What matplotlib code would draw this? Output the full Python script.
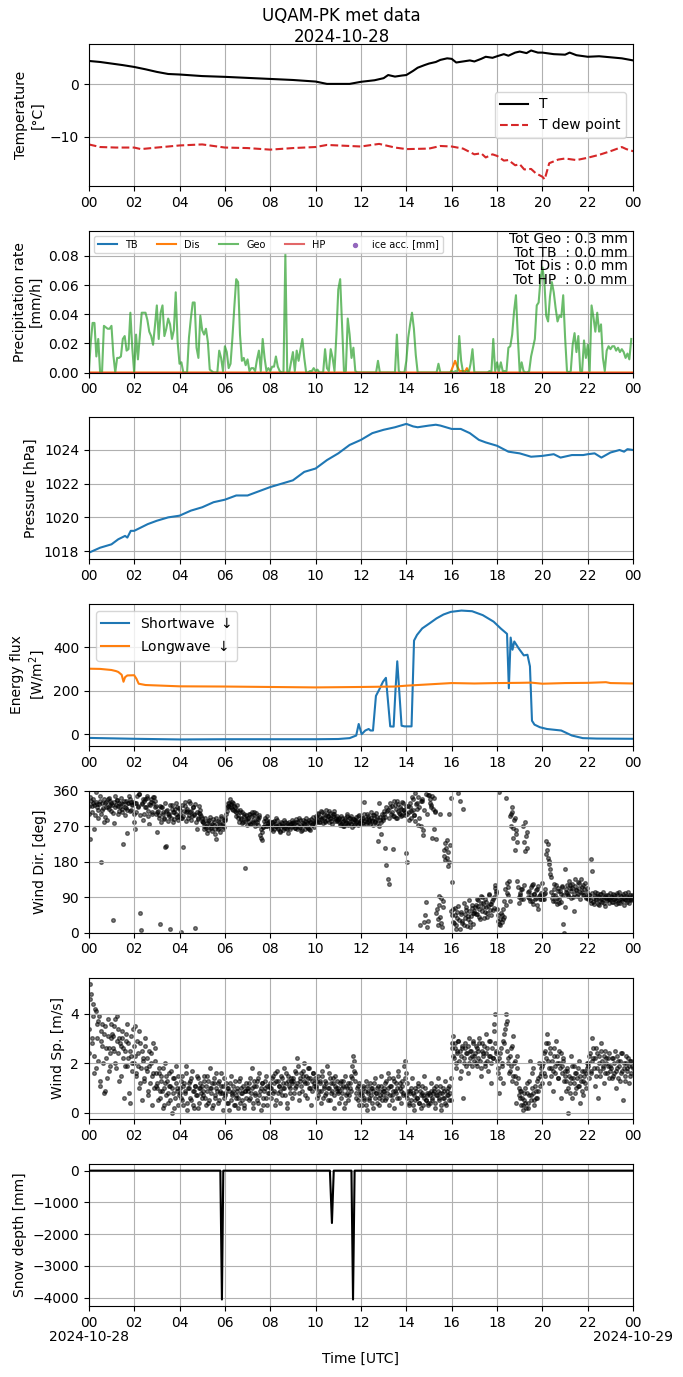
import numpy as np
import matplotlib
matplotlib.use("Agg")
import matplotlib.pyplot as plt
import matplotlib.dates as mdates

# DAY OF THE DATA
day = np.datetime64("2024-10-28T00:00")
day_labels = ["2024-10-28", "2024-10-29"]

# TEMPERATURE AND DEW POINT [°C]
temp_h = [0, 0.5, 1, 1.5, 2, 2.5, 3, 3.5, 4, 5, 6, 7, 8, 9, 10, 10.5, 11, 11.5, 12,
          12.6, 13.0, 13.2, 13.5, 13.8, 14, 14.3, 14.5, 14.8, 15, 15.3, 15.5, 15.8,
          16, 16.2, 16.5, 16.8, 17.0, 17.3, 17.5, 17.8, 18, 18.3, 18.5, 18.8, 19,
          19.3, 19.5, 19.8, 20, 20.5, 21, 21.2, 21.5, 22, 22.5, 23, 23.5, 24]
temp = [4.5, 4.3, 4.0, 3.7, 3.35, 2.9, 2.4, 2.0, 1.9, 1.6, 1.45, 1.25, 1.05, 0.85, 0.55,
        0.1, 0.1, 0.1, 0.5, 0.8, 1.2, 1.8, 1.5, 1.7, 1.8, 2.6, 3.2, 3.7, 4.0, 4.3, 4.7,
        5.0, 4.9, 4.2, 4.4, 4.6, 4.4, 4.9, 5.3, 5.1, 5.4, 5.8, 5.5, 6.1, 6.3, 6.0, 6.5,
        6.1, 6.1, 5.8, 5.7, 6.1, 5.6, 5.3, 5.4, 5.2, 5.0, 4.6]
dew_h = [0, 0.5, 1.2, 2, 2.3, 3, 4, 5, 6, 7, 8, 9, 10, 10.5, 12, 12.8, 13.5, 14, 15,
         15.5, 16, 16.5, 17, 17.3, 17.5, 17.8, 18, 18.3, 18.5, 18.8, 19, 19.2, 19.5,
         19.7, 20, 20.1, 20.3, 20.7, 21, 21.5, 22, 22.5, 23, 23.5, 23.7, 24]
dew = [-11.5, -12.0, -12.1, -12.1, -12.4, -12.1, -11.7, -11.5, -12.1, -12.2, -12.5,
       -12.2, -12.0, -11.6, -11.9, -11.4, -12.1, -12.4, -12.3, -11.8, -11.9, -12.3,
       -13.4, -13.2, -14.0, -13.4, -13.7, -14.6, -14.5, -15.5, -15.3, -16.3, -16.2,
       -17.0, -17.7, -18.2, -15.1, -14.4, -14.2, -14.5, -14.05, -13.5, -12.8, -12.0,
       -12.4, -12.8]

# PRECIPITATION RATE [mm/h], GEO EVERY 5 MINUTES (ONE ROW PER HOUR)
geo_by_hour = [
    [0, .020, .034, .034, .011, .023, 0, 0, .032, .031, .030, .030],
    [.032, .012, 0, .010, .010, .011, .023, .025, .015, .016, .041, .017],
    [0, .026, .009, .025, .041, .041, .041, .036, .028, .025, .019, .032],
    [.046, .023, .041, .046, .025, .030, .037, .033, .023, .029, .055, .021],
    [.006, .007, 0, 0, 0, .024, .037, .048, .048, .017, .010, .039],
    [.029, .026, .030, .021, .002, .001, 0, 0, 0, .015, .010, .001],
    [.018, .014, .003, .006, .024, .045, .064, .062, .026, .008, .010, .005],
    [.009, .001, .003, .003, .001, .009, .015, .001, .023, .010, .001, .003],
    [.001, .004, .004, .011, .004, .001, 0, 0, .081, 0, 0, .007],
    [.014, .001, .015, .008, .016, .023, .010, 0, 0, .001, .001, .003],
    [.001, .002, 0, 0, 0, .016, .003, .001, .016, .010, .001, .026],
    [.057, .064, .033, .001, .001, .037, .026, .010, .017, .001, 0, 0],
    [0, 0, 0, 0, 0, 0, 0, 0, 0, .008, 0, 0],
    [0, 0, 0, 0, 0, 0, 0, .026, .001, 0, 0, 0],
    [.008, .024, .033, .041, .030, .012, 0, 0, 0, 0, 0, 0],
    [0, 0, 0, 0, 0, .006, 0, 0, 0, 0, 0, 0],
    [.001, 0, .001, 0, .025, .008, 0, 0, .001, 0, .006, .016],
    [0, 0, 0, 0, 0, 0, 0, 0, .001, 0, .023, .001],
    [.007, .001, .007, .001, .001, .001, .017, .018, .026, .042, .053, .024],
    [0, .007, .001, 0, 0, .001, .011, .017, .023, .046, .048, .064],
    [.072, .063, .039, .035, .052, .062, .055, .044, .035, .039, .038, .053],
    [.024, .001, 0, .001, .019, .027, .014, .025, .001, .001, .022, .010],
    [.019, .001, .046, .038, .028, .041, .028, .033, .010, .001, .015, .018],
    [.016, .018, .018, .015, .017, .014, .016, .014, .010, .013, .009, .023],
]
dis_h = [0, 15.95, 16.05, 16.15, 16.25, 16.35, 16.5, 16.6, 16.67, 16.75, 24]
dis = [0, 0, .004, .008, .004, .001, .001, .001, .003, 0, 0]
tb_h = [0, 24]
tb = [0, 0]
hp_h = [0, 24]
hp = [0, 0]
tot_names = ["Geo", "TB ", "Dis", "HP "]
tot_vals = [0.3, 0.0, 0.0, 0.0]

# PRESSURE [hPa]
pres_h = [0, 0.5, 1, 1.3, 1.6, 1.7, 1.85, 2, 2.3, 2.6, 3, 3.5, 4, 4.5, 5, 5.5, 6, 6.5,
          7, 7.5, 8, 8.5, 9, 9.5, 10, 10.5, 11, 11.5, 12, 12.5, 13, 13.5, 14, 14.3,
          14.5, 15, 15.3, 15.5, 16, 16.4, 16.8, 17.2, 17.5, 18, 18.5, 19, 19.5, 20,
          20.5, 20.8, 21.3, 21.8, 22, 22.3, 22.6, 23, 23.4, 23.6, 23.75, 24]
pres = [1017.9, 1018.2, 1018.4, 1018.7, 1018.9, 1018.8, 1019.2, 1019.2, 1019.4, 1019.6,
        1019.8, 1020.0, 1020.1, 1020.4, 1020.6, 1020.9, 1021.05, 1021.3, 1021.3,
        1021.55, 1021.8, 1022.0, 1022.2, 1022.7, 1022.9, 1023.4, 1023.8, 1024.3,
        1024.6, 1025.0, 1025.2, 1025.35, 1025.55, 1025.4, 1025.35, 1025.45, 1025.5,
        1025.45, 1025.25, 1025.25, 1025.0, 1024.6, 1024.45, 1024.25, 1023.9, 1023.8,
        1023.6, 1023.65, 1023.75, 1023.55, 1023.7, 1023.7, 1023.75, 1023.8, 1023.55,
        1023.85, 1024.0, 1023.9, 1024.05, 1024.0]

# RADIATION [W/m2]
sw_h = [0, 2, 4, 6, 8, 10, 11, 11.5, 11.79, 11.9, 12.03, 12.19, 12.34, 12.42, 12.53,
        12.66, 12.81, 12.97, 13.1, 13.29, 13.44, 13.52, 13.6, 13.79, 13.92, 14.23,
        14.34, 14.47, 14.7, 15.02, 15.33, 15.64, 15.96, 16.43, 16.9, 17.37, 17.85,
        18.16, 18.44, 18.52, 18.6, 18.68, 18.76, 18.95, 19.18, 19.34, 19.45, 19.54,
        19.65, 19.89, 20.2, 20.83, 21.3, 21.78, 22.4, 24]
sw = [-17, -21, -24, -23, -23, -23, -22, -18, -6, 47, 0, 17, 24, 17, 17, 176, 206, 241,
      259, 36, 35, 198, 335, 39, 36, 36, 430, 456, 486, 509, 532, 550, 562, 568, 565,
      547, 517, 486, 461, 211, 444, 388, 426, 395, 362, 365, 312, 62, 44, 32, 24, 17,
      -6, -18, -20, -21]
lw_h = [0, 0.5, 1, 1.2, 1.3, 1.45, 1.53, 1.6, 1.7, 2.0, 2.1, 2.2, 2.5, 4, 6, 8, 10, 12,
        13.5, 14, 15, 16, 17, 18, 19, 19.5, 20, 21, 22, 22.8, 23, 24]
lw = [301, 300, 295, 290, 286, 273, 241, 262, 270, 271, 255, 232, 226, 220, 219, 217,
      215, 217, 219, 223, 229, 235, 233, 235, 236, 237, 232, 235, 236, 239, 235, 233]

# WIND DIRECTION [deg], EVERY 3 MINUTES (ONE ROW PER HOUR)
wdir_by_hour = [
    [300, 237, 335, 322, 330, 262, 357, 318, 291, 326, 333, 180, 312, 281, 328, 320, 287, 338, 315, 325],
    [330, 31, 279, 318, 325, 336, 322, 310, 329, 315, 226, 333, 320, 317, 253, 328, 340, 312, 324, 331],
    [280, 263, 330, 318, 351, 49, 6, 327, 287, 335, 320, 342, 310, 276, 325, 331, 300, 345, 318, 322],
    [256, 310, 298, 23, 318, 305, 290, 218, 221, 312, 300, 296, 9, 325, 305, 288, 314, 302, 320, 297],
    [300, 1, 292, 218, 310, 322, 305, 315, 298, 330, 308, 295, 318, 300, 12, 262, 289, 303, 311, 296],
    [290, 282, 270, 265, 278, 260, 285, 272, 268, 276, 280, 262, 237, 271, 283, 266, 274, 290, 279, 269],
    [285, 300, 320, 328, 318, 326, 315, 330, 322, 310, 305, 325, 298, 312, 290, 305, 280, 296, 163, 288],
    [290, 282, 300, 276, 295, 286, 305, 280, 291, 272, 298, 248, 240, 234, 268, 276, 285, 270, 278, 282],
    [272, 268, 280, 262, 275, 270, 285, 265, 273, 258, 278, 270, 266, 281, 274, 262, 270, 276, 268, 279],
    [270, 278, 265, 282, 274, 268, 286, 272, 260, 279, 275, 283, 269, 277, 262, 280, 288, 273, 278, 284],
    [285, 290, 300, 282, 294, 288, 305, 292, 280, 298, 286, 296, 310, 290, 284, 295, 300, 288, 292, 283],
    [288, 280, 276, 292, 284, 270, 286, 282, 295, 278, 290, 275, 283, 288, 272, 286, 280, 296, 278, 284],
    [285, 278, 292, 332, 288, 280, 295, 286, 276, 290, 284, 298, 282, 288, 294, 233, 328, 286, 250, 292],
    [300, 216, 171, 310, 136, 123, 318, 305, 211, 296, 325, 290, 335, 308, 300, 315, 298, 330, 312, 305],
    [203, 178, 305, 320, 290, 345, 312, 298, 355, 330, 272, 318, 18, 335, 340, 260, 26, 77, 14, 350],
    [350, 330, 320, 240, 342, 310, 237, 60, 35, 94, 300, 25, 80, 195, 228, 215, 190, 170, 300, 341],
    [128, 60, 25, 45, 10, 38, 355, 334, 52, 30, 313, 20, 48, 65, 35, 55, 15, 42, 70, 50],
    [55, 70, 48, 82, 60, 35, 75, 90, 65, 52, 78, 40, 68, 95, 58, 72, 85, 62, 120, 105],
    [60, 30, 357, 20, 45, 35, 80, 110, 341, 125, 95, 295, 270, 305, 240, 285, 210, 260, 130, 90],
    [100, 85, 110, 270, 230, 206, 255, 90, 105, 80, 95, 120, 72, 98, 88, 110, 60, 92, 85, 100],
    [90, 85, 100, 232, 210, 190, 182, 161, 140, 95, 110, 80, 120, 88, 105, 75, 98, 115, 23, 0],
    [161, 110, 100, 95, 120, 105, 112, 90, 56, 118, 108, 98, 125, 102, 135, 115, 95, 110, 88, 104],
    [88, 95, 82, 187, 156, 78, 92, 85, 100, 72, 90, 80, 98, 86, 75, 94, 88, 82, 96, 84],
    [85, 90, 78, 95, 88, 82, 100, 75, 86, 92, 80, 98, 88, 84, 94, 78, 90, 86, 82, 96],
]
# wind direction sampled in between (1.5 minutes later)
wdir_mid_by_hour = [
    [322, 345, 305, 338, 325, 298, 332, 327, 312, 348, 302, 328, 316, 340, 294, 331, 319, 342, 334, 308],
    [325, 304, 331, 346, 336, 300, 328, 320, 343, 305, 326, 298, 335, 312, 329, 347, 308, 332, 327, 300],
    [328, 305, 346, 322, 352, 298, 330, 340, 302, 338, 320, 348, 295, 327, 340, 306, 329, 345, 334, 300],
    [305, 292, 322, 282, 318, 302, 288, 330, 308, 284, 300, 325, 290, 314, 280, 306, 328, 294, 286, 316],
    [312, 290, 325, 296, 332, 284, 310, 292, 335, 305, 286, 318, 298, 326, 280, 306, 290, 322, 302, 284],
    [280, 262, 290, 270, 252, 284, 294, 266, 258, 288, 274, 250, 292, 264, 282, 256, 295, 273, 262, 286],
    [290, 310, 322, 330, 338, 318, 332, 312, 318, 296, 312, 290, 282, 306, 288, 278, 302, 284, 298, 274],
    [292, 302, 276, 306, 280, 298, 270, 304, 282, 288, 294, 262, 255, 268, 284, 292, 270, 296, 283, 274],
    [264, 280, 258, 284, 270, 290, 262, 276, 255, 282, 270, 260, 286, 266, 278, 254, 282, 262, 275, 286],
    [280, 266, 288, 262, 282, 292, 268, 258, 286, 274, 264, 290, 280, 266, 286, 260, 275, 293, 268, 282],
    [296, 282, 304, 280, 308, 290, 278, 302, 284, 312, 296, 280, 304, 291, 276, 300, 310, 284, 297, 286],
    [290, 274, 296, 282, 270, 292, 278, 300, 272, 290, 282, 296, 268, 288, 276, 294, 283, 272, 298, 278],
    [292, 278, 300, 284, 276, 302, 290, 280, 306, 286, 272, 298, 284, 304, 278, 270, 294, 282, 300, 286],
    [308, 294, 320, 312, 292, 328, 300, 322, 296, 334, 314, 292, 326, 304, 318, 296, 332, 312, 298, 322],
    [300, 322, 286, 330, 308, 340, 298, 284, 326, 315, 345, 292, 270, 335, 248, 312, 45, 352, 300, 30],
    [338, 325, 348, 315, 262, 305, 50, 20, 70, 40, 88, 15, 65, 210, 185, 235, 205, 178, 222, 55],
    [44, 26, 62, 18, 52, 68, 32, 8, 48, 24, 75, 36, 58, 16, 42, 82, 28, 62, 22, 50],
    [66, 46, 84, 68, 40, 94, 54, 76, 36, 86, 64, 50, 98, 72, 44, 80, 58, 90, 112, 100],
    [45, 22, 35, 50, 28, 60, 40, 70, 100, 115, 130, 80, 300, 320, 265, 290, 250, 230, 115, 75],
    [95, 110, 84, 120, 280, 245, 215, 104, 88, 116, 80, 124, 98, 86, 108, 70, 118, 96, 84, 126],
    [84, 98, 110, 200, 225, 175, 150, 104, 88, 80, 124, 96, 72, 112, 86, 106, 78, 118, 95, 66],
    [102, 120, 94, 130, 112, 88, 124, 98, 136, 108, 92, 128, 114, 84, 104, 120, 96, 126, 90, 112],
    [84, 96, 76, 100, 88, 72, 104, 82, 92, 70, 98, 86, 78, 102, 90, 68, 96, 84, 76, 100],
    [90, 78, 98, 84, 72, 96, 82, 104, 76, 92, 86, 70, 100, 82, 90, 102, 76, 96, 84, 92],
]

# WIND SPEED [m/s], EVERY 3 MINUTES (ONE ROW PER HOUR)
wsp_by_hour = [
    [2.4, 5.2, 4.8, 3.0, 4.4, 1.6, 4.1, 3.6, 2.1, 3.9, 1.1, 3.3, 2.7, 0.8, 3.5, 2.2, 1.4, 3.1, 2.6, 1.9],
    [3.6, 3.1, 2.5, 3.8, 1.8, 2.9, 3.4, 1.3, 2.7, 3.0, 2.2, 0.6, 2.5, 3.2, 1.9, 2.8, 0.4, 2.3, 1.7, 3.4],
    [2.0, 3.5, 1.5, 2.4, 1.0, 2.8, 1.8, 0.5, 2.2, 1.3, 3.0, 1.7, 0.9, 2.5, 1.2, 2.0, 0.3, 1.6, 2.6, 1.1],
    [1.2, 0.5, 1.8, 0.9, 1.5, 0.2, 1.0, 2.0, 0.7, 1.3, 0.4, 1.6, 1.1, 0.0, 0.8, 1.4, 0.6, 1.9, 1.0, 0.3],
    [1.0, 0.6, 1.5, 0.3, 1.2, 0.8, 1.9, 0.1, 1.0, 1.3, 0.5, 1.7, 0.9, 0.2, 1.1, 0.7, 1.4, 0.4, 1.0, 0.8],
    [1.1, 0.7, 1.5, 0.3, 0.9, 1.3, 0.5, 1.8, 1.0, 0.2, 1.2, 0.6, 1.6, 0.9, 0.4, 1.3, 0.8, 1.1, 0.1, 1.4],
    [0.8, 1.2, 0.4, 1.0, 0.1, 1.5, 0.7, 0.9, 0.3, 1.3, 0.6, 1.0, 0.2, 1.4, 0.8, 0.5, 1.1, 0.3, 0.9, 1.2],
    [1.0, 0.5, 1.4, 0.8, 1.8, 0.2, 1.1, 0.7, 1.3, 0.4, 1.6, 0.9, 0.1, 1.2, 0.6, 1.0, 1.5, 0.3, 0.8, 1.1],
    [1.2, 0.6, 1.5, 0.9, 0.3, 1.3, 1.7, 0.8, 1.1, 0.4, 1.4, 1.0, 1.8, 0.7, 1.2, 0.2, 1.5, 1.0, 1.3, 0.6],
    [1.4, 0.8, 1.7, 1.1, 2.2, 0.5, 1.3, 1.6, 0.9, 1.5, 2.0, 1.2, 0.6, 1.4, 1.8, 1.0, 0.3, 1.3, 1.6, 1.1],
    [1.1, 0.6, 1.5, 0.9, 1.3, 0.4, 1.7, 1.0, 0.7, 1.2, 1.9, 0.5, 1.0, 1.4, 0.8, 1.2, 0.2, 1.5, 1.0, 0.9],
    [1.0, 0.4, 1.3, 0.8, 1.1, 0.2, 1.5, 0.7, 1.0, 0.5, 1.2, 0.9, 1.4, 2.3, 2.1, 1.6, 0.6, 1.1, 0.3, 0.9],
    [0.8, 0.3, 1.1, 0.6, 1.3, 0.1, 0.9, 0.5, 1.2, 0.7, 1.0, 0.2, 1.4, 0.8, 0.4, 1.1, 0.6, 0.9, 1.5, 0.7],
    [1.0, 0.5, 1.3, 0.8, 1.6, 0.3, 1.1, 0.7, 1.4, 0.2, 0.9, 1.2, 0.6, 1.7, 1.0, 0.4, 1.3, 0.8, 1.9, 2.1],
    [0.7, 1.2, 0.3, 0.9, 0.5, 1.4, 0.8, 0.1, 1.0, 0.6, 1.2, 0.4, 0.9, 0.2, 1.1, 0.7, 1.5, 0.5, 0.8, 0.3],
    [0.8, 0.4, 1.2, 0.6, 0.9, 0.2, 1.1, 0.7, 1.4, 0.5, 0.8, 0.1, 1.0, 0.6, 1.3, 0.3, 0.9, 0.7, 1.1, 0.5],
    [2.6, 3.1, 2.2, 2.8, 1.8, 2.5, 2.9, 1.4, 2.3, 2.7, 0.6, 2.0, 2.6, 2.4, 1.6, 3.0, 2.2, 2.5, 1.9, 2.8],
    [2.3, 2.7, 1.9, 2.5, 3.0, 2.1, 1.5, 2.8, 2.4, 2.0, 3.2, 2.6, 1.7, 2.3, 2.9, 1.2, 2.2, 3.6, 4.0, 2.5],
    [2.1, 1.6, 0.8, 2.4, 1.9, 1.2, 2.8, 3.4, 4.0, 3.7, 2.2, 1.7, 2.6, 1.3, 3.1, 2.0, 1.5, 0.4, 2.3, 1.0],
    [0.9, 0.3, 0.6, 0.1, 0.8, 0.4, 1.2, 0.2, 0.7, 2.1, 0.5, 1.0, 1.8, 0.3, 0.9, 0.6, 1.4, 2.0, 1.1, 1.6],
    [1.9, 2.4, 1.5, 2.8, 3.2, 2.1, 1.2, 2.6, 1.8, 0.9, 2.3, 1.6, 2.9, 2.0, 1.4, 2.5, 0.6, 1.9, 2.2, 1.3],
    [1.5, 0.9, 1.8, 0.0, 1.2, 2.3, 0.6, 1.4, 1.9, 0.8, 1.6, 1.1, 2.1, 0.4, 1.3, 1.7, 0.7, 1.5, 1.0, 2.0],
    [2.0, 1.4, 2.4, 1.7, 3.0, 2.2, 1.1, 2.6, 1.8, 0.6, 2.3, 1.5, 2.8, 1.9, 1.2, 2.5, 2.0, 1.6, 2.2, 1.4],
    [1.9, 1.4, 2.2, 1.6, 2.5, 1.0, 1.8, 2.1, 1.3, 2.4, 1.7, 0.5, 2.0, 1.5, 2.3, 1.8, 1.2, 2.1, 1.6, 1.9],
]
# wind speed sampled in between (1.5 minutes later)
wsp_mid_by_hour = [
    [3.4, 4.6, 2.8, 3.9, 2.3, 4.2, 1.8, 3.0, 3.7, 1.3, 2.9, 3.6, 2.0, 3.2, 0.9, 2.6, 3.8, 1.7, 2.4, 3.0],
    [3.2, 2.6, 3.5, 2.0, 3.9, 2.4, 3.0, 2.8, 1.5, 3.3, 2.6, 1.9, 2.9, 3.6, 2.2, 0.8, 2.5, 3.1, 2.0, 2.7],
    [2.3, 1.6, 2.9, 1.9, 3.3, 1.2, 2.5, 2.1, 1.4, 2.7, 1.8, 2.2, 0.7, 1.9, 2.4, 1.5, 2.8, 1.0, 2.1, 1.6],
    [1.0, 1.6, 0.6, 1.3, 0.9, 1.8, 0.3, 1.2, 1.5, 0.8, 1.1, 0.5, 1.7, 1.0, 1.4, 0.2, 1.2, 0.9, 1.5, 0.7],
    [0.8, 1.3, 0.5, 1.1, 0.9, 1.6, 0.4, 1.0, 1.2, 0.6, 1.4, 0.3, 0.9, 1.1, 0.7, 1.5, 0.2, 1.0, 1.2, 0.6],
    [0.9, 1.3, 0.6, 1.1, 1.5, 0.4, 1.0, 0.8, 1.2, 0.3, 1.4, 0.7, 1.0, 1.2, 0.5, 0.9, 1.6, 0.8, 1.1, 0.6],
    [0.7, 1.0, 0.4, 0.9, 1.2, 0.5, 0.8, 1.1, 0.3, 0.7, 0.9, 0.6, 1.3, 0.4, 1.0, 0.8, 0.2, 0.9, 0.6, 1.0],
    [0.9, 1.2, 0.6, 1.0, 0.4, 1.3, 0.8, 1.1, 0.5, 1.4, 0.7, 1.0, 1.2, 0.3, 0.9, 1.3, 0.6, 1.1, 0.8, 1.0],
    [1.0, 1.4, 0.8, 1.2, 1.6, 0.5, 1.3, 1.1, 0.9, 1.5, 0.7, 1.2, 1.0, 1.6, 0.4, 1.3, 1.1, 0.8, 1.4, 1.2],
    [1.3, 1.0, 1.6, 1.2, 1.9, 0.8, 1.4, 1.1, 1.7, 1.3, 0.7, 1.5, 1.2, 1.8, 1.0, 1.4, 0.9, 1.6, 1.2, 1.4],
    [1.0, 1.3, 0.7, 1.2, 0.9, 1.5, 0.6, 1.1, 1.3, 0.8, 1.0, 1.6, 0.5, 1.2, 0.9, 1.4, 0.7, 1.1, 1.3, 0.8],
    [0.9, 1.2, 0.6, 1.0, 1.3, 0.4, 1.1, 0.8, 1.2, 0.7, 1.0, 1.5, 1.9, 1.7, 1.3, 0.8, 1.0, 0.5, 1.2, 0.7],
    [0.7, 1.0, 0.5, 0.9, 0.3, 1.1, 0.8, 0.6, 1.0, 0.4, 0.9, 1.2, 0.6, 0.8, 1.0, 0.3, 0.7, 1.1, 0.5, 0.9],
    [0.9, 1.2, 0.6, 1.0, 1.4, 0.7, 1.1, 0.5, 0.9, 1.3, 0.8, 1.0, 1.5, 0.6, 1.2, 0.9, 1.1, 0.7, 1.4, 1.6],
    [0.6, 0.9, 0.4, 0.8, 1.0, 0.3, 0.7, 0.5, 0.9, 0.6, 1.1, 0.4, 0.7, 0.8, 0.3, 0.6, 1.0, 0.5, 0.7, 0.4],
    [0.7, 0.9, 0.5, 0.8, 1.0, 0.4, 0.7, 0.9, 0.6, 1.1, 0.3, 0.8, 0.6, 0.9, 0.4, 0.7, 1.0, 0.5, 0.8, 1.4],
    [2.8, 2.3, 2.6, 2.0, 2.4, 2.9, 2.1, 2.5, 1.7, 2.6, 2.2, 2.8, 1.9, 2.4, 2.7, 2.0, 2.5, 2.3, 2.9, 2.1],
    [2.4, 2.0, 2.6, 2.2, 2.8, 1.8, 2.5, 2.3, 2.7, 1.9, 2.4, 2.1, 2.9, 2.3, 2.0, 2.6, 2.2, 3.3, 2.8, 2.4],
    [1.8, 2.2, 1.4, 2.6, 2.0, 2.9, 3.2, 3.6, 2.5, 2.0, 1.6, 2.3, 1.9, 2.7, 1.5, 2.1, 1.2, 1.8, 1.4, 0.7],
    [0.6, 0.9, 0.3, 0.5, 1.0, 0.2, 0.8, 0.4, 1.3, 0.7, 1.6, 0.8, 0.5, 1.1, 0.6, 1.3, 0.9, 1.5, 1.8, 1.2],
    [2.0, 1.6, 2.5, 2.2, 2.8, 1.8, 2.4, 1.5, 2.1, 1.7, 2.6, 1.9, 2.3, 1.4, 2.0, 1.8, 2.4, 1.6, 2.1, 1.7],
    [1.3, 1.7, 1.0, 1.5, 0.8, 1.4, 1.9, 1.2, 1.6, 1.0, 1.4, 1.8, 1.1, 1.5, 0.9, 1.3, 1.7, 1.2, 1.6, 1.8],
    [1.9, 2.3, 1.6, 2.1, 2.6, 1.8, 2.2, 1.5, 2.4, 2.0, 1.7, 2.5, 2.1, 1.8, 2.3, 1.6, 2.2, 1.9, 2.4, 1.7],
    [1.8, 2.2, 1.5, 2.0, 1.7, 2.3, 1.4, 1.9, 2.1, 1.6, 2.4, 1.8, 1.3, 2.0, 1.7, 2.2, 1.9, 1.5, 2.1, 1.8],
]

# SNOW DEPTH [mm]
snow_h = [0, 5.80, 5.87, 5.93, 10.63, 10.72, 10.80, 11.58, 11.65, 11.72, 24]
snow = [0, 0, -4060, 0, 0, -1650, 0, 0, -4060, 0, 0]


# CONVERSION OF HOURS OF THE DAY TO DATES
def to_time(hours):
    seconds = np.round(np.asarray(hours, dtype=float) * 3600).astype(int)
    return day + seconds.astype("timedelta64[s]")


def hourly_rows(rows, shift=0.0):
    hours, vals = [], []
    for h, row in enumerate(rows):
        for j, v in enumerate(row):
            hours.append(h + (j + shift) / len(row))
            vals.append(v)
    return hours, vals


def merged(rows_a, rows_b):
    ha, va = hourly_rows(rows_a)
    hb, vb = hourly_rows(rows_b, 0.5)
    hours = np.array(ha + hb)
    vals = np.array(va + vb, dtype=float)
    order = np.argsort(hours)
    return to_time(hours[order]), vals[order]


geo_hh, geo_v = hourly_rows(geo_by_hour)
geo_t, geo = to_time(geo_hh), np.array(geo_v)
wdir_t, wdir = merged(wdir_by_hour, wdir_mid_by_hour)
wsp_t, wsp = merged(wsp_by_hour, wsp_mid_by_hour)

# FIGURE
fig, axes = plt.subplots(7, 1, figsize=(6.83, 13.77))
fig.subplots_adjust(left=0.13, right=0.927, top=0.968, bottom=0.0516, hspace=0.317)
fig.suptitle("UQAM-PK met data\n2024-10-28", y=0.995)

# temperature
ax = axes[0]
ax.plot(to_time(temp_h), temp, color="k", label="T")
ax.plot(to_time(dew_h), dew, color="tab:red", ls="--", label="T dew point")
ax.set_ylabel("Temperature\n[°C]")
ax.legend(loc="center right")

# precipitation
ax = axes[1]
ax.plot(to_time(tb_h), tb, color="tab:blue", label="TB")
ax.plot(to_time(dis_h), dis, color="tab:orange", label="Dis")
ax.plot(geo_t, geo, color="tab:green", alpha=0.7, label="Geo")
ax.plot(to_time(hp_h), hp, color="tab:red", alpha=0.7, label="HP")
ax.scatter([], [], color="tab:purple", s=8, label="ice acc. [mm]")
ax.set_ylim(0, 1.2 * geo.max())
ax.set_ylabel("Precipitation rate\n[mm/h]")
ax.legend(loc="upper left", ncol=5, fontsize=7)
tot_text = "\n".join(f"Tot {n} : {v:.1f} mm" for n, v in zip(tot_names, tot_vals))
ax.text(0.99, 0.99, tot_text, transform=ax.transAxes, ha="right", va="top",
        fontsize=10, linespacing=0.95)

# pressure
ax = axes[2]
ax.plot(to_time(pres_h), pres, color="tab:blue")
ax.set_ylabel("Pressure [hPa]")

# radiation
ax = axes[3]
ax.plot(to_time(sw_h), sw, color="tab:blue", label="Shortwave $\\downarrow$")
ax.plot(to_time(lw_h), lw, color="tab:orange", label="Longwave $\\downarrow$")
ax.set_ylabel("Energy flux\n[W/m$^2$]")
ax.legend(loc="upper left")

# wind direction
ax = axes[4]
ax.scatter(wdir_t, wdir, color="k", alpha=0.5, s=7)
ax.set_ylim(0, 360)
ax.set_yticks([0, 90, 180, 270, 360])
ax.set_ylabel("Wind Dir. [deg]")

# wind speed
ax = axes[5]
ax.scatter(wsp_t, wsp, color="k", alpha=0.5, s=7)
ax.set_ylabel("Wind Sp. [m/s]")

# snow depth
ax = axes[6]
ax.plot(to_time(snow_h), snow, color="k")
ax.set_ylabel("Snow depth [mm]")
ax.set_xlabel("Time [UTC]", labelpad=16)

for ax in axes:
    ax.set_xlim(to_time(0), to_time(24))
    ax.xaxis.set_major_locator(mdates.HourLocator(byhour=range(0, 24, 2)))
    ax.xaxis.set_major_formatter(mdates.DateFormatter("%H"))
    ax.grid(True)

# dates below the midnight ticks of the last panel
for x, lab in zip(to_time([0, 24]), day_labels):
    axes[-1].annotate(lab, xy=(mdates.date2num(x), 0), xycoords=("data", "axes fraction"),
                      xytext=(0, -17), textcoords="offset points",
                      ha="center", va="top", annotation_clip=False)

fig.savefig("out.png", dpi=100)
